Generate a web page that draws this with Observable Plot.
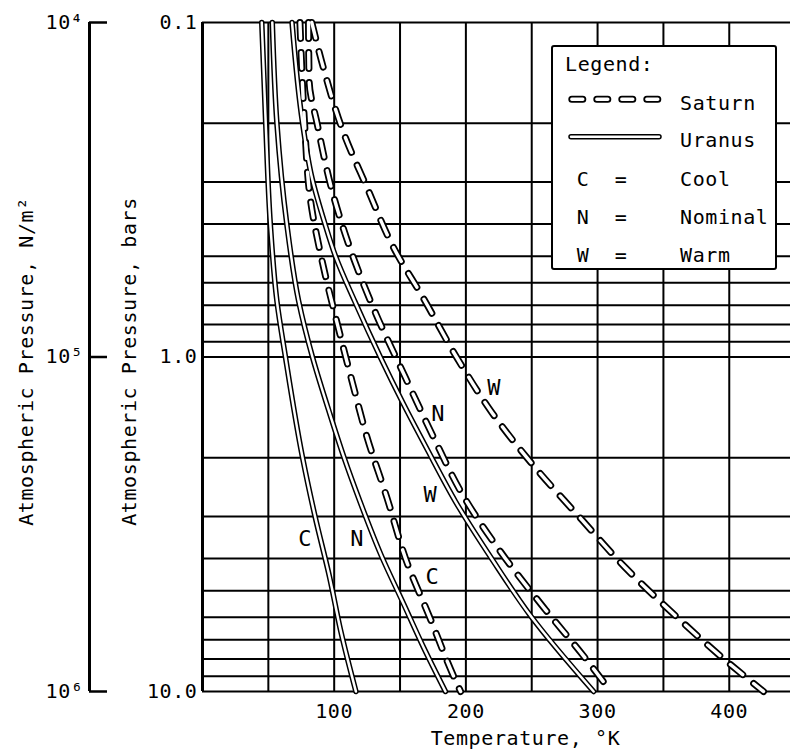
<!DOCTYPE html>
<html><head><meta charset="utf-8">
<script src="https://cdn.jsdelivr.net/npm/d3@7"></script>
<script src="https://cdn.jsdelivr.net/npm/@observablehq/plot@0.6"></script>
<style>
body{margin:0;background:#fff;}
#wrap{position:relative;width:790px;height:755px;}
#legend{position:absolute;left:551px;top:45px;}
#legend text{font-family:'DejaVu Sans Mono',monospace;font-size:20px;letter-spacing:0.6px;fill:#000;}
</style></head><body><div id="wrap"></div>
<script>
// ---- scales / ticks ----
const xGrid = [0, 50, 100, 150, 200, 250, 300, 350, 400];
const xTicks = [100, 200, 300, 400];
const yGrid = [0.1, 0.2, 0.3, 0.4, 0.5, 0.6, 0.7, 0.8, 0.9, 1, 2, 3, 4, 5, 6, 7, 8, 9, 10];
const yTicks = [0.1, 1, 10];
const yTickLabels = ["0.1", "1.0", "10.0"];
const paTickLabels = ["10\u2074", "10\u2075", "10\u2076"];

// ---- Uranus (solid) : temperature K vs pressure bars ----
const uranusCoolP = [0.1, 0.2, 0.4, 0.68, 1.0, 2.0, 3.0, 4.55, 6.6, 10];
const uranusCoolT = [45, 48, 51.5, 56.5, 63, 76, 85.5, 96.5, 105, 116.5];
const uranusNomP  = [0.1, 0.2, 0.4, 0.68, 1.0, 1.45, 2.0, 2.7, 3.9, 5.5, 7.4, 10];
const uranusNomT  = [53, 56.5, 64, 73, 83.5, 96, 107.5, 119.5, 135.5, 153, 168, 184.5];
const uranusWarmP = [0.1, 0.2, 0.29, 0.4, 0.5, 0.68, 1.0, 1.38, 1.9, 2.7, 4.06, 5.93, 10];
const uranusWarmT = [68, 76, 83, 93, 101, 115.5, 135, 152.5, 171, 192, 220.5, 249, 297];

// ---- Saturn (dashed) ----
const saturnCoolP = [0.1, 0.2, 0.34, 0.52, 0.8, 1.18, 1.74, 2.63, 4.14, 5.93, 9.06, 10];
const saturnCoolT = [74, 77.5, 82, 91, 102.5, 113.5, 125, 140, 155.5, 172, 191, 196];
const saturnNomP  = [0.1, 0.15, 0.2, 0.33, 0.51, 0.74, 1.15, 1.74, 2.6, 4.0, 5.7, 7.8, 10];
const saturnNomT  = [80.5, 81, 87, 99.5, 115, 131.5, 154, 175.5, 198, 230, 260.5, 289, 310];
const saturnWarmP = [0.1, 0.1375, 0.213, 0.312, 0.47, 0.67, 1.01, 1.47, 2.15, 3.08, 4.26, 5.93, 7.97, 10];
const saturnWarmT = [83, 92, 107, 125, 145, 168, 193.5, 220, 253, 288.5, 321, 359, 395.5, 426];

// ---- curve labels ----
const labelText = ["C", "N", "W", "C", "N", "W"];
const labelT = [78, 117.5, 173, 174.5, 179, 221.5];
const labelP = [3.5, 3.5, 2.58, 4.56, 1.48, 1.24];

function series(name, T, P) { return T.map((t, i) => ({name, T: t, P: P[i]})); }
const uranus = [
  ...series("Uranus C", uranusCoolT, uranusCoolP),
  ...series("Uranus N", uranusNomT, uranusNomP),
  ...series("Uranus W", uranusWarmT, uranusWarmP)
];
const saturn = [
  ...series("Saturn C", saturnCoolT, saturnCoolP),
  ...series("Saturn N", saturnNomT, saturnNomP),
  ...series("Saturn W", saturnWarmT, saturnWarmP)
];
const labels = labelText.map((t, i) => ({t, T: labelT[i], P: labelP[i]}));

const dash = "16,14";
const chart = Plot.plot({
  width: 790, height: 755,
  marginLeft: 202, marginRight: 0, marginTop: 22, marginBottom: 64,
  style: {fontFamily: "'DejaVu Sans Mono', monospace", fontSize: "20px", background: "white", color: "black", letterSpacing: "0.6px"},
  x: {domain: [0, 446.5]},
  y: {type: "log", domain: [0.1, 10], reverse: true},
  marks: [
    Plot.ruleY(yGrid, {stroke: "black", strokeWidth: 2}),
    Plot.ruleX(xGrid, {stroke: "black", strokeWidth: 2}),
    Plot.ruleX([xGrid[0]], {stroke: "black", strokeWidth: 3}),
    // outlines
    Plot.line(uranus, {x: "T", y: "P", z: "name", stroke: "black", strokeWidth: 5.5, curve: "monotone-y"}),
    Plot.line(saturn, {x: "T", y: "P", z: "name", stroke: "black", strokeWidth: 7, strokeDasharray: dash, strokeLinecap: "round", curve: "monotone-y"}),
    // hollow interiors
    Plot.line(uranus, {x: "T", y: "P", z: "name", stroke: "white", strokeWidth: 2.5, curve: "monotone-y"}),
    Plot.line(saturn, {x: "T", y: "P", z: "name", stroke: "white", strokeWidth: 3.4, strokeDasharray: dash, strokeLinecap: "round", curve: "monotone-y"}),
    Plot.text(labels, {x: "T", y: "P", text: "t", fontSize: 22}),
    // axes
    Plot.axisY(yTicks, {anchor: "left", tickSize: 0, tickPadding: 5, tickFormat: d => yTickLabels[yTicks.indexOf(d)], label: null}),
    Plot.axisX(xTicks, {anchor: "bottom", tickSize: 0, tickPadding: 12, label: null}),
    Plot.axisY(yTicks, {anchor: "left", tickSize: -18, tickPadding: 24, dx: -113, strokeWidth: 2.5, tickFormat: d => paTickLabels[yTicks.indexOf(d)], label: null}),
    Plot.ruleX([xGrid[0]], {dx: -113, stroke: "black", strokeWidth: 3}),
    Plot.text(["Atmospheric Pressure, bars"], {text: d => d, frameAnchor: "left", textAnchor: "middle", rotate: -90, dx: -73, dy: 4.5, lineAnchor: "middle"}),
    Plot.text(["Atmospheric Pressure, N/m\u00b2"], {text: d => d, frameAnchor: "left", textAnchor: "middle", rotate: -90, dx: -176, dy: 4.5, lineAnchor: "middle"}),
    Plot.text(["Temperature, \u00b0K"], {text: d => d, frameAnchor: "bottom", textAnchor: "middle", dx: 29, dy: 47, lineAnchor: "middle"})
  ]
});
const wrap = document.getElementById("wrap");
wrap.appendChild(chart);

// ---- legend overlay ----
const ns = "http://www.w3.org/2000/svg";
const lg = document.createElementNS(ns, "svg");
lg.setAttribute("id", "legend");
lg.setAttribute("width", 227);
lg.setAttribute("height", 226);
lg.innerHTML = `
<rect x="1" y="1" width="224" height="223" rx="2" fill="white" stroke="black" stroke-width="2"/>
<text x="14" y="26">Legend:</text>
<path d="M20.8,54.3H107.2" stroke="black" stroke-width="7" stroke-dasharray="11,14" stroke-linecap="round" fill="none"/>
<path d="M20.8,54.3H107.2" stroke="white" stroke-width="3.4" stroke-dasharray="11,14" stroke-linecap="round" fill="none"/>
<text x="129" y="65">Saturn</text>
<path d="M20,91.7H108" stroke="black" stroke-width="5.5" stroke-linecap="round" fill="none"/>
<path d="M20,91.7H108" stroke="white" stroke-width="2.5" stroke-linecap="round" fill="none"/>
<text x="129" y="102">Uranus</text>
<text x="32" y="141" text-anchor="middle">C</text><text x="70" y="141" text-anchor="middle">=</text><text x="129" y="141">Cool</text>
<text x="32" y="178.5" text-anchor="middle">N</text><text x="70" y="178.5" text-anchor="middle">=</text><text x="129" y="178.5">Nominal</text>
<text x="32" y="217" text-anchor="middle">W</text><text x="70" y="217" text-anchor="middle">=</text><text x="129" y="217">Warm</text>`;
wrap.appendChild(lg);
</script></body></html>
